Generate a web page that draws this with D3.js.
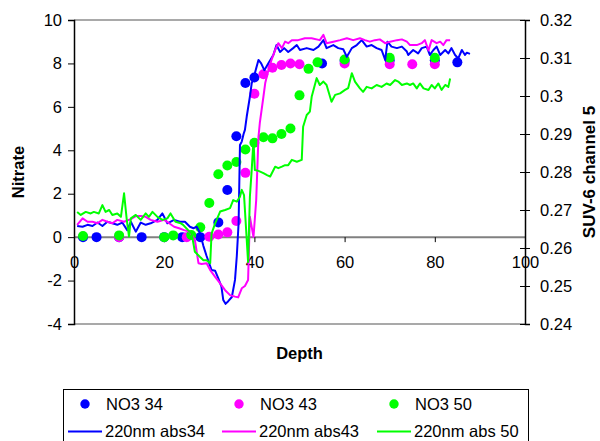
<!DOCTYPE html>
<html>
<head>
<meta charset="utf-8">
<script src="https://cdn.jsdelivr.net/npm/d3@7"></script>
<style>
  html, body { margin: 0; padding: 0; background: #fff; }
  svg { display: block; font-family: "Liberation Sans", Arial, sans-serif; }
</style>
</head>
<body>
<svg id="chart" width="600" height="441"></svg>
<script>
// Tick labels for the three axes
const xTicks = [0, 20, 40, 60, 80, 100];
const leftTicks = [-4, -2, 0, 2, 4, 6, 8, 10];
const rightTicks = [0.24, 0.25, 0.26, 0.27, 0.28, 0.29, 0.30, 0.31, 0.32];

// Nitrate samples [depth, nitrate] (left axis)
const no3_34 = [[2,0],[5,0],[10,0],[15,0],[20,0],[24,0],[28,0],[32,0.68],[34,2.17],[36,4.65],[38,7.1],[40,7.35],[55,8.0],[60,8.12],[70,8.15],[80,8.15],[85,8.05]];
const no3_43 = [[10,0],[25,0],[30,0.02],[32,0.12],[34,0.22],[36,0.74],[38,2.96],[40,6.6],[42,7.5],[44,7.8],[46,7.93],[48,8.0],[50,7.96],[60,8.0],[70,7.96],[75,7.96],[80,7.96]];
const no3_50 = [[2,0.05],[10,0.08],[20,0.0],[22,0.08],[26,0.1],[28,0.45],[30,1.57],[32,2.9],[34,3.3],[36,3.46],[38,4.04],[40,4.35],[42,4.6],[44,4.55],[46,4.75],[48,5.0],[50,6.53],[52,7.75],[54,8.05],[60,8.18],[70,8.26],[80,8.26]];

// SUV-6 channel 5 absorbance traces [depth, abs] (right axis)
const abs34 = [[0.7,0.2658],[1.9,0.2656],[3.0,0.2661],[4.1,0.2658],[5.2,0.2667],[6.3,0.2658],[7.4,0.2669],[8.5,0.2665],[9.6,0.2661],[10.7,0.2667],[11.8,0.2647],[12.6,0.2669],[13.7,0.2643],[14.8,0.2667],[15.9,0.2661],[17.0,0.2665],[18.5,0.2674],[19.6,0.2691],[20.7,0.2665],[22.2,0.2674],[23.5,0.2669],[24.6,0.2669],[25.7,0.2656],[26.5,0.2652],[27.2,0.2656],[27.9,0.2640],[28.7,0.2605],[29.4,0.2579],[30.5,0.2542],[31.3,0.2540],[32.0,0.2520],[32.7,0.2498],[33.1,0.2463],[33.6,0.2453],[34.2,0.2460],[35.0,0.2471],[35.7,0.2516],[36.1,0.2579],[36.5,0.2666],[36.8,0.2871],[37.2,0.2880],[37.6,0.2900],[37.9,0.2911],[38.3,0.2946],[39.0,0.2998],[39.4,0.3033],[40.1,0.3060],[40.9,0.3095],[41.5,0.3086],[42.2,0.3068],[43.1,0.3086],[44.2,0.3108],[44.9,0.3134],[45.7,0.3116],[46.6,0.3126],[47.5,0.3116],[48.6,0.3126],[49.4,0.3134],[50.1,0.3121],[51.6,0.3126],[53.1,0.3121],[54.2,0.3130],[55.3,0.3147],[56.0,0.3126],[57.5,0.3134],[58.6,0.3126],[59.7,0.3123],[60.5,0.3103],[61.6,0.3126],[62.7,0.3134],[63.8,0.3147],[64.9,0.3130],[66.0,0.3134],[67.1,0.3126],[68.2,0.3121],[69.0,0.3095],[69.5,0.3143],[70.4,0.3130],[71.6,0.3126],[72.7,0.3130],[73.8,0.3117],[74.1,0.3108],[75.2,0.3121],[76.3,0.3112],[77.1,0.3126],[78.2,0.3130],[78.9,0.3108],[79.7,0.3121],[80.4,0.3130],[81.2,0.3108],[82.3,0.3121],[83.0,0.3112],[83.7,0.3126],[84.5,0.3108],[85.2,0.3099],[86.0,0.3121],[86.7,0.3108],[87.1,0.3114],[87.8,0.3111]];
const abs43 = [[0.7,0.2661],[1.9,0.2678],[3.0,0.2669],[4.1,0.2669],[5.2,0.2665],[6.3,0.2674],[7.4,0.2669],[8.5,0.2665],[9.6,0.2674],[11.1,0.2669],[12.6,0.2676],[13.7,0.2684],[14.8,0.2684],[15.9,0.2682],[17.0,0.2674],[18.5,0.2669],[20.0,0.2674],[21.1,0.2665],[22.2,0.2656],[23.3,0.2652],[24.4,0.2647],[25.7,0.2643],[26.8,0.2621],[27.6,0.2560],[28.3,0.2558],[29.4,0.2560],[30.2,0.2542],[31.3,0.2524],[32.4,0.2507],[33.5,0.2489],[34.6,0.2476],[35.7,0.2472],[36.4,0.2470],[37.2,0.2494],[37.9,0.2500],[38.6,0.2516],[39.0,0.2682],[39.8,0.2629],[40.4,0.2726],[40.9,0.2892],[41.2,0.2929],[42.0,0.2998],[42.4,0.3034],[43.1,0.3068],[43.8,0.3095],[44.6,0.3121],[45.3,0.3139],[46.1,0.3126],[46.8,0.3143],[47.5,0.3139],[48.3,0.3147],[49.7,0.3147],[51.2,0.3152],[52.7,0.3152],[54.5,0.3147],[55.3,0.3161],[56.0,0.3139],[57.5,0.3143],[59.0,0.3147],[60.5,0.3152],[61.9,0.3147],[63.4,0.3152],[64.5,0.3147],[65.6,0.3143],[66.7,0.3147],[67.8,0.3149],[69.0,0.3139],[70.1,0.3143],[71.6,0.3147],[72.7,0.3149],[73.8,0.3143],[74.5,0.3134],[76.0,0.3134],[77.1,0.3139],[77.8,0.3147],[78.6,0.3120],[79.3,0.3147],[80.4,0.3139],[81.2,0.3143],[81.9,0.3134],[82.6,0.3147],[83.4,0.3147]];
const abs50 = [[0.7,0.2695],[1.5,0.2687],[2.6,0.2695],[3.7,0.2691],[4.4,0.2695],[5.5,0.2691],[6.3,0.2713],[7.0,0.2695],[7.8,0.2700],[8.5,0.2687],[9.6,0.2691],[10.4,0.2682],[11.1,0.2744],[11.7,0.2674],[12.2,0.2630],[12.6,0.2678],[13.7,0.2687],[14.8,0.2674],[15.9,0.2691],[16.6,0.2682],[17.4,0.2695],[18.5,0.2682],[19.6,0.2674],[20.7,0.2678],[21.4,0.2691],[22.5,0.2669],[23.7,0.2665],[24.2,0.2661],[25.3,0.2647],[26.1,0.2638],[26.8,0.2590],[27.9,0.2577],[28.7,0.2568],[29.4,0.2568],[30.2,0.2560],[30.5,0.2638],[31.3,0.2665],[32.4,0.2696],[33.5,0.2700],[34.6,0.2705],[35.3,0.2726],[36.1,0.2722],[36.8,0.2735],[37.2,0.2753],[37.7,0.2739],[38.6,0.2563],[39.0,0.2735],[39.4,0.2805],[39.8,0.2884],[40.1,0.2805],[40.9,0.2803],[42.0,0.2797],[42.8,0.2792],[43.5,0.2788],[44.6,0.2814],[45.3,0.2810],[46.1,0.2814],[46.8,0.2818],[47.5,0.2818],[48.3,0.2832],[49.4,0.2827],[50.5,0.2832],[50.8,0.2919],[51.6,0.2950],[52.3,0.2959],[52.7,0.2998],[53.1,0.3016],[53.8,0.3047],[54.5,0.3029],[55.3,0.3038],[56.0,0.3029],[57.1,0.2985],[57.9,0.3003],[59.0,0.3007],[60.1,0.3016],[60.8,0.3021],[61.6,0.3060],[62.3,0.3038],[63.4,0.3020],[64.1,0.3011],[64.9,0.3024],[66.0,0.3020],[67.1,0.3029],[68.2,0.3024],[69.3,0.3033],[70.1,0.3029],[71.2,0.3042],[71.9,0.3038],[72.7,0.3029],[73.8,0.3033],[74.5,0.3029],[75.2,0.3033],[76.0,0.3020],[76.7,0.3033],[77.5,0.3020],[78.6,0.3016],[79.3,0.3029],[80.0,0.3020],[80.8,0.3033],[81.5,0.3016],[82.3,0.3029],[83.0,0.3024],[83.4,0.3046]];

const dotSeries = [
  { name: "NO3 34", data: no3_34, color: "#0000ff" },
  { name: "NO3 43", data: no3_43, color: "#ff00ff" },
  { name: "NO3 50", data: no3_50, color: "#00ff00" }
];
const lineSeries = [
  { name: "220nm abs34", data: abs34, color: "#0000ff" },
  { name: "220nm abs43", data: abs43, color: "#ff00ff" },
  { name: "220nm abs 50", data: abs50, color: "#00ff00" }
];

const svg = d3.select("#chart");
const plot = { left: 74, right: 525, top: 20, bottom: 324 };

const x = d3.scaleLinear().domain([0, 100]).range([plot.left, plot.right]);
const yL = d3.scaleLinear().domain([-4, 10]).range([plot.bottom, plot.top]);
const yR = d3.scaleLinear().domain([0.24, 0.32]).range([plot.bottom, plot.top]);

const FS = 16.5;

// Plot frame: top and bottom borders
svg.append("line").attr("x1", plot.left).attr("x2", plot.right)
  .attr("y1", plot.top).attr("y2", plot.top).attr("stroke", "#8c8c8c").attr("stroke-width", 1.5);
svg.append("line").attr("x1", plot.left).attr("x2", plot.right)
  .attr("y1", plot.bottom).attr("y2", plot.bottom).attr("stroke", "#8c8c8c").attr("stroke-width", 1.5);

// X axis drawn along nitrate = 0
const xAxis = svg.append("g")
  .attr("transform", `translate(0,${yL(0)})`)
  .call(d3.axisBottom(x).tickValues(xTicks).tickSize(5).tickPadding(14).tickFormat(d => String(d)));
xAxis.select(".domain").remove();
xAxis.insert("line", ":first-child").attr("x1", plot.left).attr("x2", plot.right)
  .attr("stroke", "#808080").attr("stroke-width", 2);
xAxis.selectAll(".tick line").attr("stroke", "#000");
xAxis.selectAll("text").attr("font-size", FS).attr("fill", "#000").attr("font-family", "Liberation Sans, Arial, sans-serif");

// Left axis (Nitrate)
const lAxis = svg.append("g")
  .attr("transform", `translate(${plot.left},0)`)
  .call(d3.axisLeft(yL).tickValues(leftTicks).tickSize(6).tickPadding(6).tickFormat(d => String(d)));
lAxis.select(".domain").attr("stroke", "#000").attr("stroke-width", 1.5);
lAxis.selectAll("text").attr("font-size", FS).attr("fill", "#000").attr("font-family", "Liberation Sans, Arial, sans-serif");

// Right axis (SUV-6 channel 5), ticks cross the axis line
const rAxis = svg.append("g")
  .attr("transform", `translate(${plot.right},0)`)
  .call(d3.axisRight(yR).tickValues(rightTicks).tickSize(5).tickPadding(10).tickFormat(d3.format("~g")));
rAxis.select(".domain").attr("stroke", "#000").attr("stroke-width", 1.5);
rAxis.selectAll(".tick line").attr("x1", -5).attr("x2", 5);
rAxis.selectAll("text").attr("font-size", FS).attr("fill", "#000").attr("font-family", "Liberation Sans, Arial, sans-serif");

// Nitrate markers
dotSeries.forEach(s => {
  svg.append("g").selectAll("circle").data(s.data).join("circle")
    .attr("cx", d => x(d[0])).attr("cy", d => yL(d[1])).attr("r", 5)
    .attr("fill", s.color);
});

// Absorbance lines
const line = d3.line().x(d => x(d[0])).y(d => yR(d[1]));
lineSeries.forEach(s => {
  svg.append("path").datum(s.data).attr("d", line)
    .attr("fill", "none").attr("stroke", s.color).attr("stroke-width", 2)
    .attr("stroke-linejoin", "round");
});

// Axis titles
svg.append("text").attr("x", (plot.left + plot.right) / 2).attr("y", 359)
  .attr("text-anchor", "middle").attr("font-weight", "bold").attr("font-size", 16.5).text("Depth");
svg.append("text").attr("transform", `translate(24,${(plot.top + plot.bottom) / 2}) rotate(-90)`)
  .attr("text-anchor", "middle").attr("font-weight", "bold").attr("font-size", 16.5).text("Nitrate");
svg.append("text").attr("transform", `translate(595,${(plot.top + plot.bottom) / 2}) rotate(-90)`)
  .attr("text-anchor", "middle").attr("font-weight", "bold").attr("font-size", 17).text("SUV-6 channel 5");

// Legend
const legend = svg.append("g");
legend.append("rect").attr("x", 63.5).attr("y", 389.5).attr("width", 465).attr("height", 60)
  .attr("fill", "#fff").attr("stroke", "#000").attr("stroke-width", 1);
const colX = [63, 217, 372];
dotSeries.forEach((s, i) => {
  legend.append("circle").attr("cx", colX[i] + 22).attr("cy", 404).attr("r", 4.7).attr("fill", s.color);
  legend.append("text").attr("x", colX[i] + 43).attr("y", 410).attr("font-size", FS).text(s.name);
});
lineSeries.forEach((s, i) => {
  legend.append("line").attr("x1", colX[i] + 5).attr("x2", colX[i] + 39)
    .attr("y1", 431.5).attr("y2", 431.5).attr("stroke", s.color).attr("stroke-width", 2);
  legend.append("text").attr("x", colX[i] + 42).attr("y", 437).attr("font-size", FS).text(s.name);
});
</script>
</body>
</html>
